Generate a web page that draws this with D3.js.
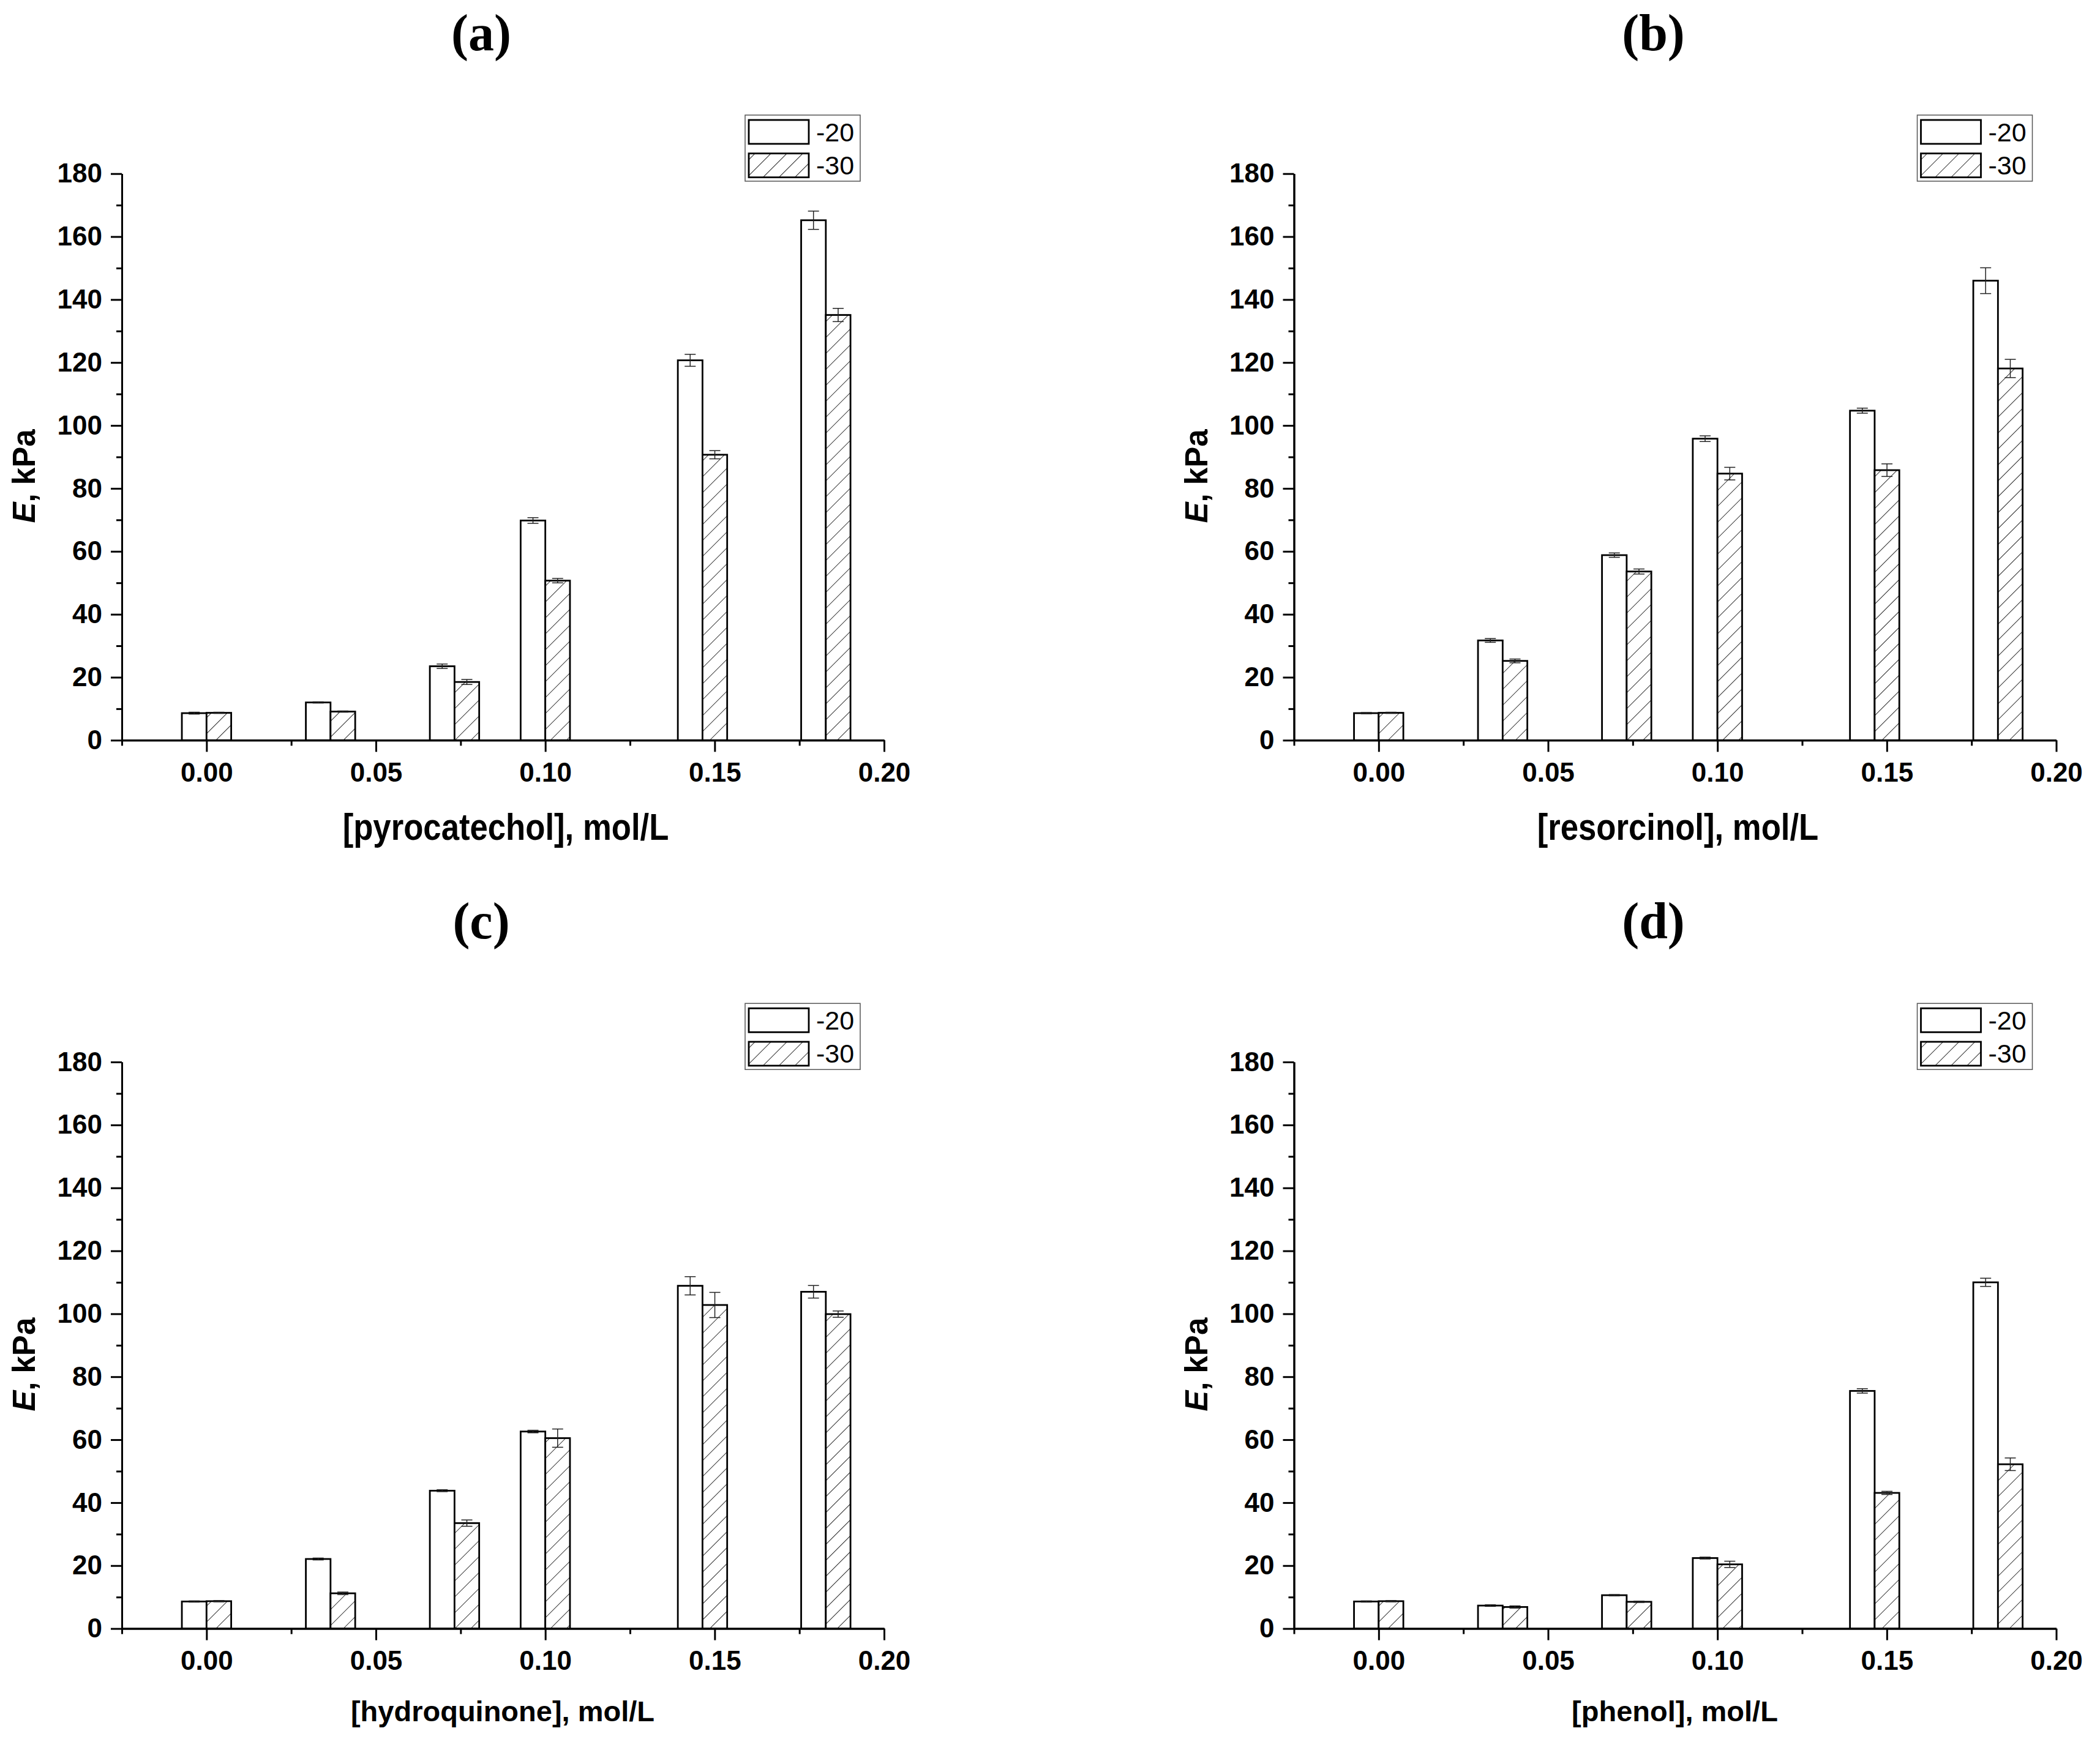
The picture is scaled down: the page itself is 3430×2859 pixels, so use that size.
<!DOCTYPE html>
<html>
<head>
<meta charset="utf-8">
<script src="https://cdn.jsdelivr.net/npm/d3@7"></script>
<style>
  html, body { margin: 0; padding: 0; background: #fff; }
  svg { display: block; }
</style>
</head>
<body>
<svg id="chart" width="3430" height="2859"></svg>
<script>
// ---------------- DATA ----------------
const concentrations = [0, 0.0366, 0.0732, 0.1, 0.1464, 0.1828];
const seriesNames = ["-20", "-30"];
const xTicks = [0, 0.05, 0.10, 0.15, 0.20];
const xMinorTicks = [-0.025, 0.025, 0.075, 0.125, 0.175];
const yTicks = [0, 20, 40, 60, 80, 100, 120, 140, 160, 180];
const yMinorTicks = [10, 30, 50, 70, 90, 110, 130, 150, 170];

const panelTitles = ["(a)", "(b)", "(c)", "(d)"];
const xLabels = ["[pyrocatechol], mol/L", "[resorcinol], mol/L", "[hydroquinone], mol/L", "[phenol], mol/L"];

const a20 = [8.6, 12.0, 23.5, 69.8, 120.7, 165.2];
const a20err = [0.3, 0.2, 0.7, 0.9, 1.9, 2.9];
const a30 = [8.7, 9.1, 18.5, 50.7, 90.7, 135.1];
const a30err = [0.2, 0.2, 0.8, 0.7, 1.3, 2.1];

const b20 = [8.6, 31.7, 58.8, 95.8, 104.7, 146.0];
const b20err = [0.2, 0.6, 0.7, 0.9, 0.8, 4.1];
const b30 = [8.7, 25.2, 53.6, 84.7, 85.8, 118.1];
const b30err = [0.2, 0.6, 0.8, 2.0, 2.0, 2.9];

const c20 = [8.6, 22.1, 43.8, 62.6, 108.9, 107.0];
const c20err = [0.2, 0.3, 0.3, 0.4, 2.9, 2.0];
const c30 = [8.7, 11.2, 33.5, 60.5, 102.8, 99.9];
const c30err = [0.2, 0.4, 1.0, 2.9, 4.0, 1.0];

const d20 = [8.6, 7.3, 10.6, 22.4, 75.5, 110.0];
const d20err = [0.2, 0.25, 0.2, 0.3, 0.7, 1.3];
const d30 = [8.7, 6.85, 8.5, 20.4, 43.1, 52.2];
const d30err = [0.2, 0.35, 0.2, 1.0, 0.5, 2.0];

// ---------------- LAYOUT ----------------
const svg = d3.select("#chart");
svg.append("rect").attr("width", 3430).attr("height", 2859).attr("fill", "#fff");

const defs = svg.append("defs");
const pat = defs.append("pattern")
  .attr("id", "hatch")
  .attr("patternUnits", "userSpaceOnUse")
  .attr("width", 18.4).attr("height", 18.4)
  .attr("patternTransform", "rotate(45)");
pat.append("rect").attr("width", 18.4).attr("height", 18.4).attr("fill", "#fff");
pat.append("line").attr("x1", 0).attr("y1", 0).attr("x2", 0).attr("y2", 18.4)
  .attr("stroke", "#000").attr("stroke-width", 1.6);

const panelOffsets = [[0, 0], [1914.5, 0], [0, 1451.3], [1914.5, 1451.3]];
const panelSeries = [
  [[a20, a20err], [a30, a30err]],
  [[b20, b20err], [b30, b30err]],
  [[c20, c20err], [c30, c30err]],
  [[d20, d20err], [d30, d30err]]
];

const plotLeft = 199, plotRight = 1444, plotTop = 283.7, plotBottom = 1209.3;
const barWidthData = 0.00728;
const font = "'Liberation Sans', Arial, Helvetica, sans-serif";

function drawPanel(i) {
  const [ox, oy] = panelOffsets[i];
  const g = svg.append("g").attr("transform", `translate(${ox},${oy})`);

  const x = d3.scaleLinear().domain([-0.025, 0.2]).range([plotLeft, plotRight]);
  const y = d3.scaleLinear().domain([0, 180]).range([plotBottom, plotTop]);
  const bw = x(barWidthData) - x(0);

  // Bars
  const series = panelSeries[i];
  series.forEach(([vals, errs], s) => {
    const data = concentrations.map((c, k) => ({ c, v: vals[k], e: errs[k] }));
    const gs = g.append("g");
    gs.selectAll("rect").data(data).join("rect")
      .attr("x", d => s === 0 ? x(d.c) - bw : x(d.c))
      .attr("y", d => y(d.v))
      .attr("width", bw)
      .attr("height", d => y(0) - y(d.v))
      .attr("fill", s === 0 ? "#fff" : "url(#hatch)")
      .attr("stroke", "#000")
      .attr("stroke-width", 2.8);
    // error bars
    const eg = gs.selectAll("g.err").data(data).join("g").attr("class", "err");
    const cx = d => s === 0 ? x(d.c) - bw / 2 : x(d.c) + bw / 2;
    eg.append("line")
      .attr("x1", cx).attr("x2", cx)
      .attr("y1", d => y(d.v + d.e)).attr("y2", d => y(d.v - d.e))
      .attr("stroke", "#222").attr("stroke-width", 1.5);
    [1, -1].forEach(sign => {
      eg.append("line")
        .attr("x1", d => cx(d) - 9).attr("x2", d => cx(d) + 9)
        .attr("y1", d => y(d.v + sign * d.e)).attr("y2", d => y(d.v + sign * d.e))
        .attr("stroke", "#222").attr("stroke-width", 1.5);
    });
  });

  // Axes
  const yAxis = d3.axisLeft(y).tickValues(yTicks).tickFormat(d3.format("d"))
    .tickSize(18).tickSizeOuter(0).tickPadding(14);
  const yMinor = d3.axisLeft(y).tickValues(yMinorTicks).tickFormat("")
    .tickSize(9).tickSizeOuter(0);
  const xAxis = d3.axisBottom(x).tickValues(xTicks).tickFormat(d3.format(".2f"))
    .tickSize(19).tickSizeOuter(0).tickPadding(17);
  const xMinor = d3.axisBottom(x).tickValues(xMinorTicks).tickFormat("")
    .tickSize(9).tickSizeOuter(0);

  function styleAxis(sel) {
    sel.selectAll("path.domain").attr("stroke", "#000").attr("stroke-width", 3);
    sel.selectAll(".tick line").attr("stroke", "#000").attr("stroke-width", 3);
    sel.selectAll(".tick text")
      .attr("fill", "#000")
      .style("font-family", font)
      .style("font-weight", "bold")
      .style("font-size", "44px");
  }
  g.append("g").attr("transform", `translate(0,${plotBottom})`).call(xMinor).call(styleAxis);
  g.append("g").attr("transform", `translate(0,${plotBottom})`).call(xAxis).call(styleAxis);
  g.append("g").attr("transform", `translate(${plotLeft},0)`).call(yMinor).call(styleAxis);
  g.append("g").attr("transform", `translate(${plotLeft},0)`).call(yAxis).call(styleAxis);

  // Y label
  const yl = g.append("text")
    .attr("transform", `translate(57,778) rotate(-90)`)
    .attr("text-anchor", "middle")
    .style("font-family", font)
    .style("font-weight", "bold")
    .style("font-size", "51px")
    .attr("fill", "#000");
  yl.append("tspan").style("font-style", "italic").text("E");
  yl.append("tspan").text(", kPa");

  // X label
  const top = i < 2;
  g.append("text")
    .attr("transform", top
      ? `translate(826,${plotBottom + 162.4}) scale(0.85,1)`
      : `translate(821,${plotBottom + 151}) scale(1,1)`)
    .attr("text-anchor", "middle")
    .style("font-family", font)
    .style("font-weight", "bold")
    .style("font-size", top ? "62px" : "47px")
    .attr("fill", "#000")
    .text(xLabels[i]);

  // Title
  g.append("text")
    .attr("x", 786).attr("y", 82)
    .attr("text-anchor", "middle")
    .style("font-family", "'Liberation Serif', 'Times New Roman', serif")
    .style("font-weight", "bold")
    .style("font-size", "84px")
    .attr("fill", "#000")
    .text(panelTitles[i]);

  // Legend
  const lg = g.append("g");
  lg.append("rect").attr("x", 1217).attr("y", 188).attr("width", 188).attr("height", 108)
    .attr("fill", "#fff").attr("stroke", "#555").attr("stroke-width", 1.5);
  seriesNames.forEach((name, s) => {
    lg.append("rect")
      .attr("x", 1223).attr("y", 196 + s * 54.7)
      .attr("width", 98).attr("height", 39)
      .attr("fill", s === 0 ? "#fff" : "url(#hatch)")
      .attr("stroke", "#000").attr("stroke-width", 2.8);
    lg.append("text")
      .attr("x", 1333).attr("y", 231 + s * 54)
      .style("font-family", font)
      .style("font-size", "43px")
      .attr("fill", "#000")
      .text(name);
  });
}

for (let i = 0; i < 4; i++) drawPanel(i);
</script>
</body>
</html>
